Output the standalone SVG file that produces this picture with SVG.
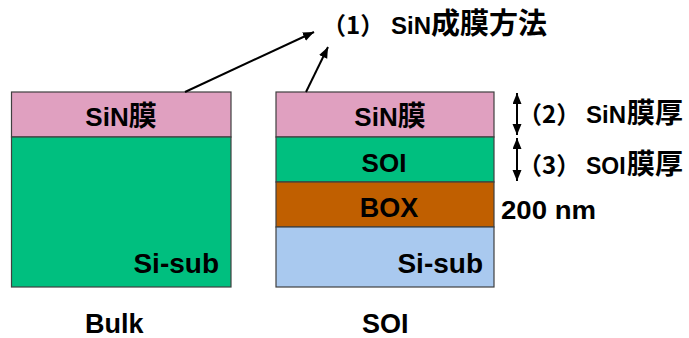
<svg xmlns="http://www.w3.org/2000/svg" width="689" height="338" viewBox="0 0 689 338">
<defs>
<marker id="ah" markerUnits="userSpaceOnUse" markerWidth="12" markerHeight="10" refX="11" refY="4.5" orient="auto-start-reverse">
<path d="M0,0 L11,4.5 L0,9 Z" fill="#000"/>
</marker>
<style>
.lay{stroke:#404040;stroke-width:1.2}
.sin{fill:#E0A0C0}
.si{fill:#00BF7F}
.box{fill:#C05F00}
.sub{fill:#A9C9EF}
.t{font-family:"Liberation Sans","Noto Sans CJK JP",sans-serif;font-weight:bold;fill:#000}
.j{font-family:"Noto Sans CJK JP",sans-serif;font-weight:bold}
.c{stroke:#000;stroke-width:2;fill:none;marker-end:url(#ah)}
</style>
</defs>
<rect width="689" height="338" fill="#fff"/>

<g id="bulk">
<rect class="lay sin" x="11.5" y="92" width="219.5" height="45"/>
<rect class="lay si" x="11.5" y="137" width="219.5" height="150"/>
<text class="t" x="121" y="126" font-size="26" text-anchor="middle">SiN<tspan class="j" font-size="28">膜</tspan></text>
<text class="t" x="219" y="273" font-size="28" text-anchor="end">Si-sub</text>
<text class="t" x="85" y="333" font-size="27">Bulk</text>
</g>

<g id="soi">
<rect class="lay sin" x="276" y="92" width="218" height="45"/>
<rect class="lay si" x="276" y="137" width="218" height="45"/>
<rect class="lay box" x="276" y="182" width="218" height="45"/>
<rect class="lay sub" x="276" y="227" width="218" height="60"/>
<text class="t" x="390" y="126" font-size="26" text-anchor="middle">SiN<tspan class="j" font-size="28">膜</tspan></text>
<text class="t" x="384" y="172" font-size="26" text-anchor="middle">SOI</text>
<text class="t" x="389" y="217" font-size="27" text-anchor="middle">BOX</text>
<text class="t" x="483" y="273" font-size="28" text-anchor="end">Si-sub</text>
<text class="t" x="362" y="333" font-size="27">SOI</text>
</g>

<g id="label1">
<text class="t" y="34"><tspan class="j" x="322" font-size="24">（1）</tspan><tspan x="391" font-size="24">SiN</tspan><tspan class="j" x="431" font-size="29">成膜方法</tspan></text>
</g>

<g id="label2">
<text class="t" y="123"><tspan class="j" x="518" font-size="24">（2）</tspan><tspan x="586" font-size="24">SiN</tspan><tspan class="j" x="627" font-size="28">膜厚</tspan></text>
</g>

<g id="label3">
<text class="t" y="174"><tspan class="j" x="518" font-size="24">（3）</tspan><tspan x="586" font-size="23">SOI</tspan><tspan class="j" x="627" font-size="28">膜厚</tspan></text>
</g>

<g id="label4">
<text class="t" x="501" y="219" font-size="26" textLength="95" lengthAdjust="spacingAndGlyphs">200 nm</text>
</g>

<g id="connectors">
<line class="c" x1="185" y1="92" x2="314" y2="32"/>
<line class="c" x1="306" y1="92" x2="328" y2="47"/>
<line class="c" x1="517" y1="135" x2="517" y2="93" style="marker-start:url(#ah)"/>
<line class="c" x1="517" y1="138" x2="517" y2="181" style="marker-start:url(#ah)"/>
</g>
</svg>
